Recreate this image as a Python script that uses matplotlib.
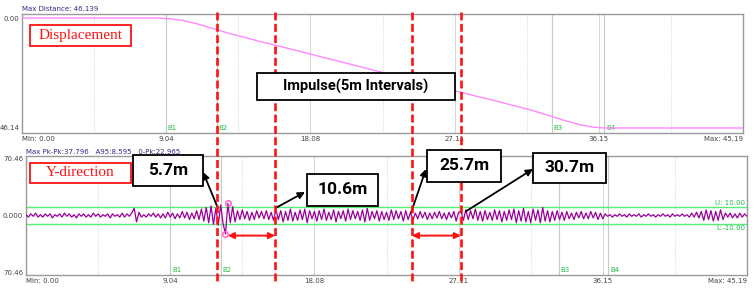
import numpy as np
import matplotlib
matplotlib.use("Agg")
import matplotlib.pyplot as plt
from matplotlib.patches import Rectangle
from matplotlib.lines import Line2D
import matplotlib.transforms as mtrans

# ---------------- data ----------------
x_max = 45.19
x_ticks = [0.0, 9.04, 18.08, 27.11, 36.15, 45.19]
x_tick_labels = ["Min: 0.00", "9.04", "18.08", "27.11", "36.15", "Max: 45.19"]
x_minor = [4.52, 13.56, 22.60, 31.63, 40.67]

disp_max = 46.14
disp_t = [0, 4, 8, 8.6, 9.2, 10, 11, 12, 13, 14, 15, 16, 18, 20, 22, 24, 26, 28,
          30, 32, 33, 34, 35, 35.8, 36.5, 40, 45.19]
disp_v = [0, 0, 0, 0.05, 0.3, 0.9, 2.5, 4.5, 6.5, 8.2, 10.0, 11.6, 15.0, 18.4,
          21.8, 25.2, 28.6, 32.0, 35.3, 38.8, 40.9, 43.0, 44.8, 45.8, 46.14,
          46.14, 46.14]

b_labels = ["B1", "B2", "B3", "B4"]
b_top = [9.0, 12.2, 33.2, 36.5]
b_bot = [9.04, 12.2, 33.4, 36.5]

y_range = 70.46
limit_u = 10.0
limit_l = -10.0

sig = [
    1, -2, 2, -1, 3, -2, 1, -2, 2, -1,
    2, -3, 1, -1, 2, -2, 3, -1, 2, -2,
    1, -3, 2, -1, 2, -2, 1, -2, 3, -1,
    2, -2, 1, -1, 2, -3, 2, -1, 1, -2,
    3, -2, 2, -1, 3, 9, -8, 4, -2, 1,
    -2, 2, -1, 3, -2, 2, -3, 2,
    -3, 4, -2, 3, -4, 2, -3, 5, -3, 4, -5, 3, -4, 6, -5,
    8, -7, 10, -9, 12, -11, 9, -12, 13, -10, -23, 15, -9, 11, -8,
    6, -5, 7, -4, 5, -6, 4, -5, 6, -3, 5, -4, 6, -5, 4, -6,
    7, -5, 6, -8, 5, -6, 8, -7, 4, -6, 7, -5, 8, -9, 6, -4, 5, -7, 6, -5,
    8, -6, 4, -5, 7, -8, 5, -4, 6, -7, 8, -5, 6, -4, 5, -6, 7, -8, 9, -6,
    5, -4, 6, -7, 5, -5, 4, -6, 7, -5, 6, -4, 5, -7, 6, -5, 4,
    -6, 3, -4, 5, -3, 4, -5, 3, -4, 4, -3, 5, -4, 3, -5, 4, -3, 5, -7, 4,
    5, -6, 7, -5, 6, -4, 8, -6, 5, -7, 6, -5, 4, -6, 7, -5, 6, -8, 5, -6,
    7, -5, 8, -9, 6, -7, 9, -8, 5, -9, 8, -6, 7, -9, 10, -7, 6, -8, 5, -6,
    6, -5, 4, -6, 5, -4, 3, -5, 4, -3, 5, -4, 3, -4, 5, -3, 4, -5, 3, -4,
    2, -1, 1, -2, 1, -1, 2, -1, 1, -2, 2, -1, 1, -1, 2, -2, 1, -1, 2, -1,
    1, -2, 1, -1, 2, -1, 1, -2, 2, -1, 1, -1, 2, -1, 1, -2, 3, -2, 4, -3,
    5, -6, 7, -5, 6, -7, 5, -6, 7, -5,
    3, -2, 3, -3, 2, -3, 3, -2, 2, -1,
]

impulse_t = [11.97, 15.61, 24.19, 27.26]
impulse_labels = ["5.7m", "10.6m", "25.7m", "30.7m"]
impulse_pick_y = [12, 10, 4, 5]

# ---------------- figure ----------------
W, H = 754, 289
fig = plt.figure(figsize=(W / 100, H / 100), dpi=100)


def fx(x):
    return x / W


def fy(y):
    return 1 - y / H


def fp(x, y):
    return (fx(x), fy(y))


ax1 = fig.add_axes([fx(22), fy(133), fx(743) - fx(22), fy(14) - fy(133)])
ax2 = fig.add_axes([fx(26), fy(275), fx(747) - fx(26), fy(156) - fy(275)])

grid_col = "#d4d4d4"
green = "#22bb44"


def style_axes(ax, b_pos):
    ax.set_xlim(0, x_max)
    for s in ax.spines.values():
        s.set_color("#9a9a9a")
        s.set_linewidth(1.0)
    ax.tick_params(length=0, labelsize=5, colors="#444444", pad=2)
    ax.set_xticks(x_ticks)
    ax.set_xticklabels(x_tick_labels)
    lbls = ax.get_xticklabels()
    lbls[0].set_horizontalalignment("left")
    lbls[-1].set_horizontalalignment("right")
    for t in x_ticks[1:-1]:
        ax.axvline(t, color=grid_col, lw=0.7, zorder=0)
    for t in x_minor:
        ax.axvline(t, color=grid_col, lw=0.7, ls=(0, (1, 1.5)), zorder=0)
    trans = mtrans.blended_transform_factory(ax.transData, ax.transAxes)
    for lab, b in zip(b_labels, b_pos):
        ax.axvline(b, color="#c8c8c8", lw=0.8, zorder=0)
        ax.text(b + 0.12, 0.015, lab, transform=trans, color=green,
                fontsize=5, va="bottom", ha="left")


# top panel: displacement
style_axes(ax1, b_top)
ax1.plot(disp_t, disp_v, color="#ff88ff", lw=1.0, zorder=3)
ax1.set_ylim(disp_max + 2.1, -1.68)
ax1.set_yticks([0, disp_max])
ax1.set_yticklabels(["0.00", f"{disp_max:.2f}"])

# bottom panel: Y-direction vibration
style_axes(ax2, b_bot)
sig_arr = np.array(sig, dtype=float)
n = len(sig_arr)
t = np.arange(n) * (x_max / (n - 1))
ax2.set_ylim(-74, 74)
ax2.set_yticks([-y_range, 0, y_range])
ax2.set_yticklabels([f"{y_range:.2f}", "0.000", f"{y_range:.2f}"])
ax2.axhline(limit_u, color="#55ee77", lw=1.0, zorder=2)
ax2.axhline(limit_l, color="#55ee77", lw=1.0, zorder=2)
ax2.plot(t, sig_arr, color="#990099", lw=0.9, zorder=3)
i_max = int(np.argmax(sig_arr))
i_min = int(np.argmin(sig_arr))
ax2.plot([t[i_max], t[i_min]], [sig_arr[i_max], sig_arr[i_min]], ls="none",
         marker="o", ms=4, mfc="none", mec="#ff55bb", mew=1.0, zorder=4)
ax2.text(x_max - 0.1, limit_u + 1.5, f"U: {limit_u:.2f}", color=green,
         fontsize=5, ha="right", va="bottom")
ax2.text(x_max - 0.1, limit_l - 1.5, f"L:{limit_l:.2f}", color=green,
         fontsize=5, ha="right", va="top")

# header texts
fig.text(fx(22), fy(9), "Max Distance: 46.139",
         color="#2b2b8a", fontsize=5, va="center", ha="left")
fig.text(fx(26), fy(152), "Max Pk-Pk:37.796   A95:8.595   0-Pk:22.965",
         color="#2b2b8a", fontsize=5, va="center", ha="left")

# red dashed impulse lines across both panels
btrans = mtrans.blended_transform_factory(ax2.transData, fig.transFigure)
for ti in impulse_t:
    fig.add_artist(Line2D([ti, ti], [fy(12), fy(284)], transform=btrans,
                          color="#ff1111", lw=1.9, ls=(0, (3, 1.3)), zorder=5))

# double red arrows
ar = dict(arrowstyle="<|-|>", color="#ff1111", lw=1.4, mutation_scale=9,
          shrinkA=0, shrinkB=0)
ax2.annotate("", xy=(t[i_min] + 0.15, -25), xytext=(impulse_t[1], -25),
             arrowprops=ar, zorder=6)
ax2.annotate("", xy=(impulse_t[2], -25), xytext=(impulse_t[3], -25),
             arrowprops=ar, zorder=6)


# boxes
def box(x0, y0, x1, y1, text, ec, tc, **kw):
    r = Rectangle(fp(x0, y1), fx(x1) - fx(x0), fy(y0) - fy(y1),
                  transform=fig.transFigure, facecolor="white", edgecolor=ec,
                  lw=1.3, zorder=8)
    fig.add_artist(r)
    fig.text(fx((x0 + x1) / 2), fy((y0 + y1) / 2), text, color=tc,
             ha="center", va="center", zorder=9, **kw)


serif = dict(family="Liberation Serif", fontsize=11)
bold = dict(family=["Roboto", "Lato", "DejaVu Sans"], fontweight="bold")
box(30, 25, 131, 46, "Displacement", "#ff1111", "#ff1111", **serif)
box(30, 163, 131, 183, "Y-direction", "#ff1111", "#ff1111", **serif)
box(257, 73, 455, 100, "Impulse(5m Intervals)", "black", "black",
    fontsize=10.5, **bold)

label_boxes = [(133, 155, 203, 186), (307, 174, 378, 206),
               (427, 150, 501, 182), (533, 153, 606, 183)]
arrow_heads = [(203, 172), (305, 192), (426, 169), (533, 169)]
tail_dx = [0.0, 0.1, -0.05, 0.3]
for (x0, y0, x1, y1), lab in zip(label_boxes, impulse_labels):
    box(x0, y0, x1, y1, lab, "black", "black", fontsize=12.5, **bold)
for ti, py, head, dx in zip(impulse_t, impulse_pick_y, arrow_heads, tail_dx):
    ax2.annotate("", xy=fp(*head), xycoords="figure fraction",
                 xytext=(ti + dx, py), textcoords="data",
                 arrowprops=dict(arrowstyle="-|>", color="black", lw=1.3,
                                 mutation_scale=10, shrinkA=0, shrinkB=0),
                 zorder=7, annotation_clip=False)

fig.savefig("out.png", dpi=100)
